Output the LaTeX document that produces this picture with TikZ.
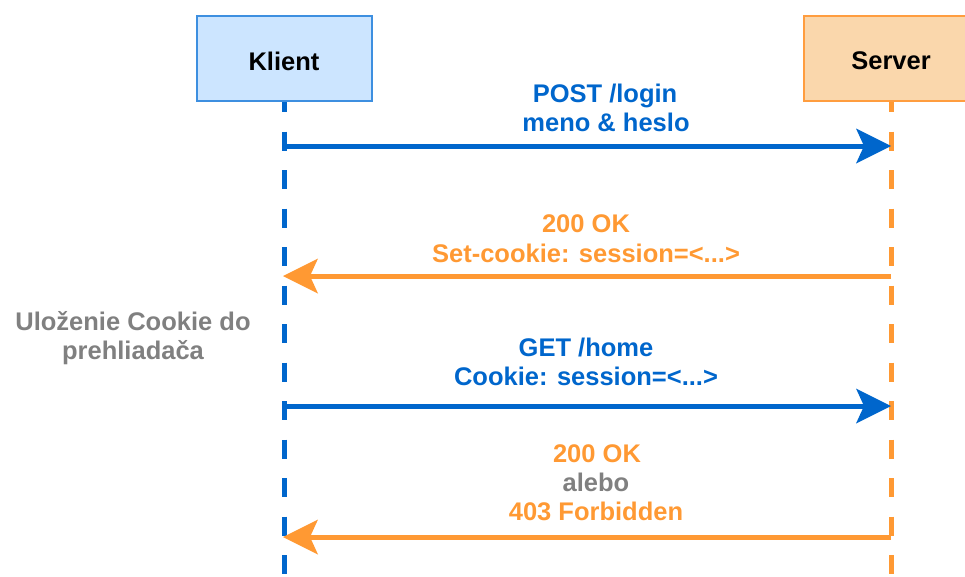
\documentclass[tikz,border=0pt]{standalone}
\usepackage{fontspec}
\setmainfont{Liberation Sans}
\usetikzlibrary{arrows.meta}
\definecolor{cblue}{HTML}{0066CC}
\definecolor{corange}{HTML}{FF9933}
\definecolor{cgray}{HTML}{808080}
\definecolor{kfill}{HTML}{CCE5FF}
\definecolor{kline}{HTML}{3D8FE0}
\definecolor{sfill}{HTML}{FAD7AC}
\definecolor{sline}{HTML}{FF9D3F}
\tikzset{
  actor/.style={draw, line width=2pt, minimum width=175pt, minimum height=85pt, inner sep=0pt,
    font=\fontsize{25.5}{29.5}\selectfont\bfseries, text=black},
  lifeline/.style={line width=5pt, dash pattern=on 19.25pt off 19.25pt, dash phase=9pt},
  msg/.style={line width=5pt, -{Stealth[length=35pt, width=35pt, inset=8pt, line width=0pt]}},
  lbl/.style={font=\fontsize{25.5}{29.5}\selectfont\bfseries, inner sep=0pt, anchor=base}
}
\begin{document}
\begin{tikzpicture}[x=1pt, y=-1pt]
\useasboundingbox (0,0) rectangle (965,576);
\clip (0,0) rectangle (965,576);
% lifelines
\coordinate (kb) at (284,102);
\coordinate (sb) at (891,102);
\coordinate (kend) at (284,580);
\coordinate (send) at (891,580);
\draw[lifeline, cblue] (kb) -- (kend);
\draw[lifeline, corange] (sb) -- (send);
% actors
\node[actor, fill=kfill, draw=kline] (klient) at (284,58.5) {\raisebox{-2.5pt}[\height][\depth]{Klient}};
\node[actor, fill=sfill, draw=sline] (server) at (891,58.5) {\raisebox{-2.5pt}[\height][\depth]{Server}};
% message points
\coordinate (k1) at (284,146); \coordinate (s1) at (891,146);
\coordinate (k2) at (283,276); \coordinate (s2) at (891,276);
\coordinate (k3) at (284,406); \coordinate (s3) at (891,406);
\coordinate (k4) at (283,537); \coordinate (s4) at (891,537);
\draw[msg, cblue] (k1) -- (s1);
\draw[msg, corange] (s2) -- (k2);
\draw[msg, cblue] (k3) -- (s3);
\draw[msg, corange] (s4) -- (k4);
% labels
\node[lbl, text=cblue] (m1a) at (605,102) {POST /login};
\node[lbl, text=cblue] (m1b) at (606,131) {meno \& heslo};
\node[lbl, text=corange] (m2a) at (586,232) {200 OK};
\node[lbl, text=corange] (m2b) at (586,262) {Set-cookie: session=<...>};
\node[lbl, text=cblue] (m3a) at (586,356) {GET /home};
\node[lbl, text=cblue] (m3b) at (586,385) {Cookie: session=<...>};
\node[lbl, text=corange] (m4a) at (597,462) {200 OK};
\node[lbl, text=cgray] (m4b) at (596,491) {alebo};
\node[lbl, text=corange] (m4c) at (596,520) {403 Forbidden};
\node[lbl, text=cgray] (notea) at (133,330) {Uloženie Cookie do};
\node[lbl, text=cgray] (noteb) at (133,359) {prehliadača};
\end{tikzpicture}
\end{document}
